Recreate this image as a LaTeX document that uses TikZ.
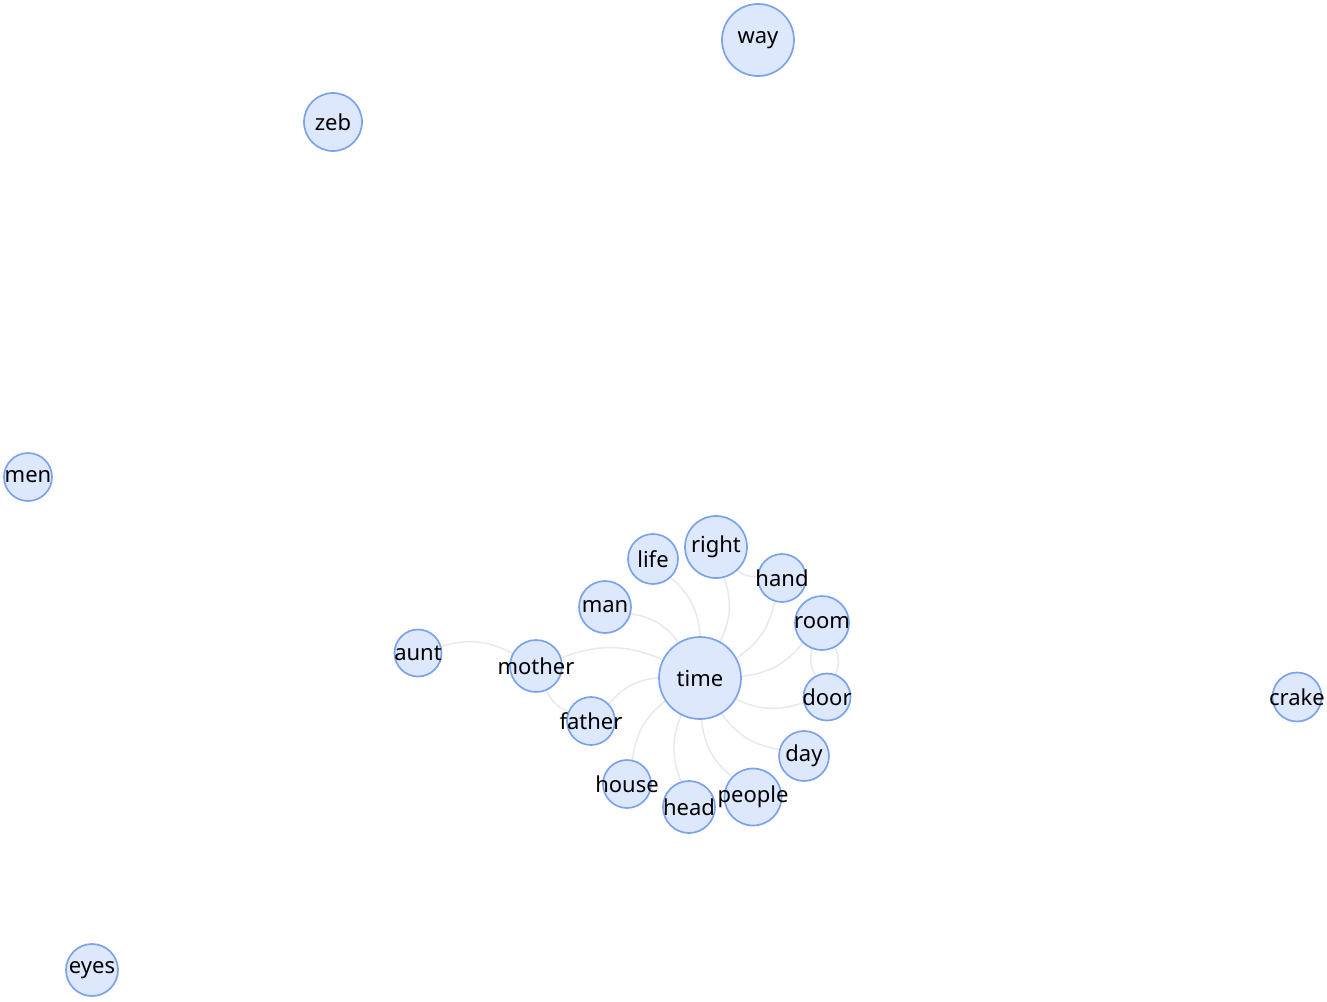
\documentclass[tikz,border=0pt]{standalone}
\usepackage{fontspec}
\setmainfont{Noto Sans}
\usetikzlibrary{backgrounds}
\definecolor{nodefill}{HTML}{DDE8FD}
\definecolor{nodeedge}{HTML}{7BA3EA}
\definecolor{edgegray}{HTML}{E9E9E9}
\tikzset{
  word/.style={circle, draw=nodeedge, fill=nodefill, line width=1.7pt, inner sep=0pt,
    minimum size=#1, font=\fontsize{22}{25}\selectfont, text=black},
  link/.style={draw=edgegray, line width=1.5pt, bend right=22},
}
\newcommand{\wlab}[1]{\raisebox{-1pt}{\makebox[0pt][c]{#1}}}
\begin{document}
\begin{tikzpicture}[x=1pt,y=-1pt]
\useasboundingbox (0,0) rectangle (1327,1001);
\node[word=72pt] (way) at (758,40) {\wlab{way}};
\node[word=58pt] (zeb) at (333,122) {\wlab{zeb}};
\node[word=48pt] (men) at (28,477) {\wlab{men}};
\node[word=52pt] (eyes) at (92,970) {\wlab{eyes}};
\node[word=49pt] (crake) at (1297,697) {\wlab{crake}};
\node[word=47pt] (aunt) at (418,653) {\wlab{aunt}};
\node[word=52pt] (mother) at (536,666) {\wlab{mother}};
\node[word=48pt] (father) at (591,721) {\wlab{father}};
\node[word=52pt] (man) at (605,607) {\wlab{man}};
\node[word=50pt] (life) at (653,559) {\wlab{life}};
\node[word=62pt] (right) at (716,547) {\wlab{right}};
\node[word=48pt] (hand) at (782,578) {\wlab{hand}};
\node[word=54pt] (room) at (822,623) {\wlab{room}};
\node[word=47pt] (door) at (827,697) {\wlab{door}};
\node[word=82pt] (time) at (700,678) {\wlab{time}};
\node[word=50pt] (day) at (804,756) {\wlab{day}};
\node[word=57pt] (people) at (753,797) {\wlab{people}};
\node[word=52pt] (head) at (689,807) {\wlab{head}};
\node[word=48pt] (house) at (627,784) {\wlab{house}};
\begin{pgfonlayer}{background}
\draw[link] (mother) to (aunt);
\draw[link] (time) to (mother);
\draw[link] (mother) to (father);
\draw[link] (time) to (father);
\draw[link] (time) to (man);
\draw[link] (time) to (life);
\draw[link] (time) to (right);
\draw[link] (right) to (hand);
\draw[link] (time) to (hand);
\draw[link] (time) to (room);
\draw[link, bend right=24] (room) to (door);
\draw[link, bend right=24] (door) to (room);
\draw[link] (time) to (door);
\draw[link] (time) to (day);
\draw[link] (time) to (people);
\draw[link] (time) to (head);
\draw[link] (time) to (house);
\end{pgfonlayer}
\end{tikzpicture}
\end{document}
